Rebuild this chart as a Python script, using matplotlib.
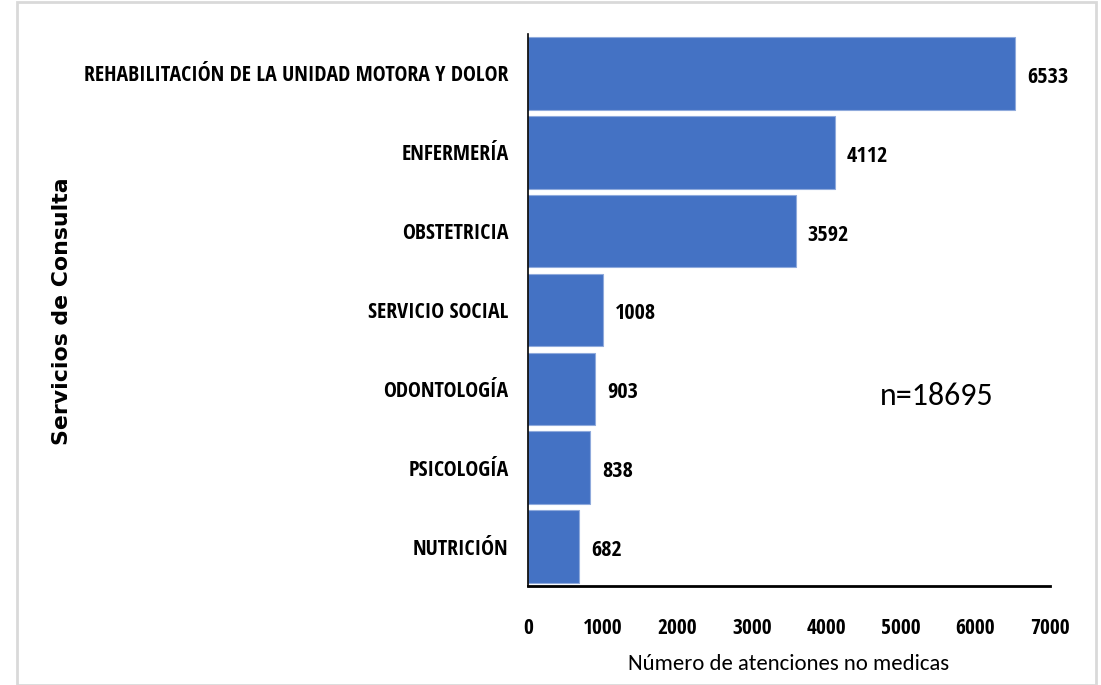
import matplotlib
matplotlib.use("Agg")
import matplotlib.pyplot as plt
from matplotlib import font_manager
from matplotlib.patches import Rectangle

categories = ["REHABILITACIÓN DE LA UNIDAD MOTORA Y DOLOR", "ENFERMERÍA", "OBSTETRICIA",
              "SERVICIO SOCIAL", "ODONTOLOGÍA", "PSICOLOGÍA", "NUTRICIÓN"]
values = [6533, 4112, 3592, 1008, 903, 838, 682]
xticks = [0, 1000, 2000, 3000, 4000, 5000, 6000, 7000]
total_label = "n=18695"

names = {f.name for f in font_manager.fontManager.ttflist}
def pick(cands):
    for c in cands:
        if c in names:
            return c
    return "DejaVu Sans"
narrow = pick(["Open Sans Condensed", "IBM Plex Sans Condensed", "Roboto Condensed"])
regular = pick(["Carlito", "Open Sans"])

fig = plt.figure(figsize=(11.01, 6.85), dpi=100)
fig.patches.append(Rectangle((17/1101, 0.0), (1096-17)/1101, 1 - 2/685, transform=fig.transFigure,
                             fill=False, edgecolor="#d9d9d9", linewidth=2))
ax = fig.add_axes([528/1101, 1 - 586/685, (1050-528)/1101, (586-34)/685])

y = list(range(len(categories)))
ax.barh(y, values, height=0.92, color="#4472C4", edgecolor="#8FAADC", linewidth=0.8)
ax.set_ylim(len(categories) - 0.5, -0.5)
ax.set_xlim(0, 7000)
ax.set_xticks(xticks)
ax.set_xticklabels([str(t) for t in xticks], fontfamily=narrow, fontweight="bold", fontsize=15.5)
ax.set_yticks(y)
ax.set_yticklabels(categories, fontfamily=narrow, fontweight="bold", fontsize=15.7)
ax.tick_params(axis="both", length=0)
ax.tick_params(axis="x", pad=23)
ax.tick_params(axis="y", pad=14)
for s in ["top", "right"]:
    ax.spines[s].set_visible(False)
ax.spines["bottom"].set_linewidth(2)
ax.spines["left"].set_linewidth(1.2)

for yi, v in zip(y, values):
    ax.text(v + 160, yi + 0.05, str(v), va="center", ha="left", fontfamily=narrow,
            fontweight="bold", fontsize=16)

ax.text(0.675, 0.345, total_label, transform=ax.transAxes, fontsize=23,
        fontfamily=regular, va="center", ha="left")

ax.set_xlabel("Número de atenciones no medicas", fontfamily=regular, fontsize=16.4, labelpad=11)
fig.text(62/1101, 1 - 311/685, "Servicios de Consulta", rotation=90, fontfamily="DejaVu Sans",
         fontweight="bold", fontsize=15.8, va="center", ha="center")

fig.savefig("out.png", dpi=100)
